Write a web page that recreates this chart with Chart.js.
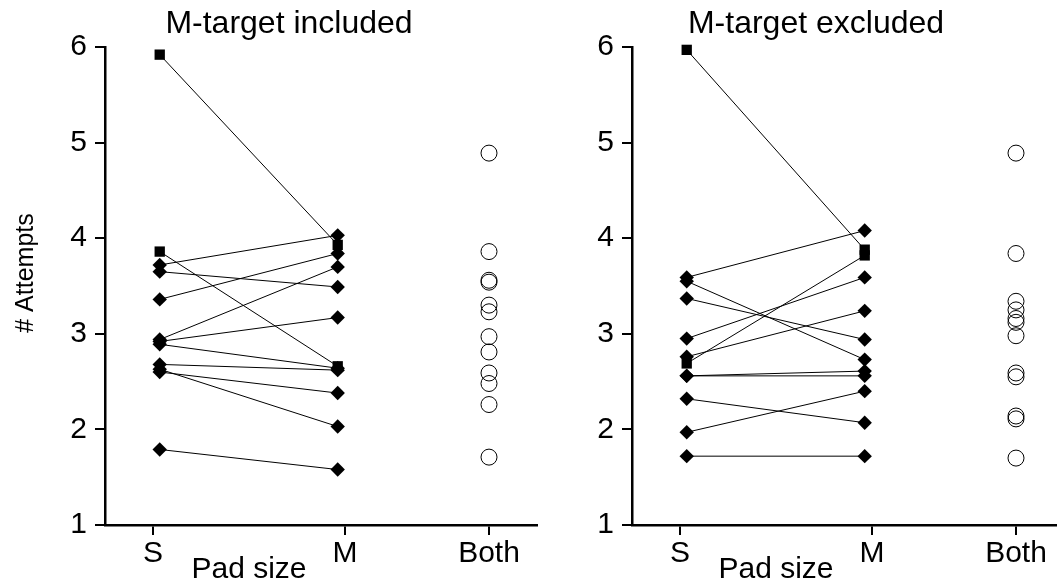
<!DOCTYPE html>
<html>
<head>
<meta charset="utf-8">
<script src="https://cdn.jsdelivr.net/npm/chart.js@4.4.1/dist/chart.umd.min.js"></script>
<style>
  html, body { margin:0; padding:0; background:#fff; width:1057px; height:587px; overflow:hidden; }
  .wrap { position:absolute; top:0; width:560px; height:587px; }
  canvas { display:block; }
</style>
</head>
<body>
<div class="wrap" style="left:0px"><canvas id="c1" width="560" height="587"></canvas></div>
<div class="wrap" style="left:527px"><canvas id="c2" width="560" height="587"></canvas></div>
<script>
// ---- data ----
const xTickPos = [1, 2, 2.75];
const xTickLabels = ['S', 'M', 'Both'];
const yTicks = [1, 2, 3, 4, 5, 6];
const panelTitles = ['M-target included', 'M-target excluded'];
const xAxisTitle = 'Pad size';
const yAxisTitle = '# Attempts';

// position on the x scale of each group of marks
const xS = 1.035, xM = 1.962, xBoth = 2.75;

// M-target included
const incS    = [5.92, 3.86, 3.72, 3.65, 3.36, 2.94, 2.92, 2.89, 2.68, 2.63, 2.60, 1.79];
const incM    = [3.93, 2.66, 4.03, 3.49, 3.84, 3.70, 3.17, 2.64, 2.62, 2.03, 2.38, 1.58];
const incBoth = [4.89, 3.86, 3.56, 3.54, 3.30, 3.23, 2.97, 2.81, 2.59, 2.48, 2.26, 1.71];
const incSquares = [0, 1];

// M-target excluded
const excS    = [5.97, 2.69, 3.59, 3.55, 3.37, 2.95, 2.76, 2.56, 2.56, 2.32, 1.97, 1.72];
const excM    = [3.88, 3.82, 4.08, 2.73, 2.94, 3.59, 3.24, 2.61, 2.56, 2.07, 2.40, 1.72];
const excBoth = [4.89, 3.84, 3.34, 3.25, 3.16, 3.12, 2.98, 2.59, 2.55, 2.14, 2.11, 1.70];
const excSquares = [0, 1];

const FONT = '"Liberation Sans", Arial, sans-serif';

function buildDatasets(S, M, Both, squares) {
  const ds = S.map((s, i) => {
    const sq = squares.includes(i);
    return {
      data: [{x: xS, y: s}, {x: xM, y: M[i]}],
      showLine: true,
      borderColor: '#000',
      borderWidth: 1,
      pointStyle: sq ? 'rect' : 'rectRot',
      pointRadius: sq ? 7.3 : 7.2,
      pointBackgroundColor: '#000',
      pointBorderColor: '#000',
      pointBorderWidth: 0,
      clip: false
    };
  });
  ds.push({
    data: Both.map(v => ({x: xBoth, y: v})),
    showLine: false,
    pointStyle: 'circle',
    pointRadius: 8,
    pointBackgroundColor: 'rgba(0,0,0,0)',
    pointBorderColor: '#000',
    pointBorderWidth: 1,
    clip: false
  });
  return ds;
}

function textPlugin(title, showYTitle) {
  return {
    id: 'texts',
    afterDraw(chart) {
      const ctx = chart.ctx;
      const ca = chart.chartArea;
      const xs = chart.scales.x;
      ctx.save();
      ctx.fillStyle = '#000';
      ctx.textBaseline = 'alphabetic';
      ctx.textAlign = 'center';
      ctx.font = '32px ' + FONT;
      ctx.fillText(title, ca.left + 184, 33);
      ctx.font = '30px ' + FONT;
      const px = (xs.getPixelForValue(xTickPos[0]) + xs.getPixelForValue(xTickPos[1])) / 2;
      ctx.fillText(xAxisTitle, px, 578);
      if (showYTitle) {
        ctx.translate(33, (ca.top + ca.bottom) / 2 - 13);
        ctx.rotate(-Math.PI / 2);
        ctx.font = '25px ' + FONT;
        ctx.fillText(yAxisTitle, 0, 0);
      }
      ctx.restore();
    }
  };
}

function makeChart(id, S, M, Both, squares, title, showYTitle) {
  return new Chart(document.getElementById(id), {
    type: 'scatter',
    data: { datasets: buildDatasets(S, M, Both, squares) },
    options: {
      responsive: false,
      animation: false,
      devicePixelRatio: 1,
      layout: { padding: { top: 47, right: 23, left: 0, bottom: 0 } },
      plugins: { legend: { display: false }, tooltip: { enabled: false }, title: { display: false } },
      scales: {
        x: {
          type: 'linear',
          min: 0.75,
          max: 3,
          afterBuildTicks: (s) => { s.ticks = xTickPos.map(v => ({ value: v })); },
          afterFit: (s) => { s.height = 62; },
          ticks: {
            autoSkip: false,
            maxRotation: 0,
            padding: 1,
            color: '#000',
            font: { family: FONT, size: 30 },
            callback: (v, i) => xTickLabels[i]
          },
          grid: { display: true, drawOnChartArea: false, drawTicks: true, tickLength: 10, color: '#000', lineWidth: 2 },
          border: { display: true, color: '#000', width: 2.5 }
        },
        y: {
          type: 'linear',
          min: 1,
          max: 6,
          afterBuildTicks: (s) => { s.ticks = yTicks.map(v => ({ value: v })); },
          afterFit: (s) => { s.width = 105; },
          ticks: {
            padding: 8,
            color: '#000',
            font: { family: FONT, size: 30 },
            callback: (v) => String(v)
          },
          grid: { display: true, drawOnChartArea: false, drawTicks: true, tickLength: 10, color: '#000', lineWidth: 2 },
          border: { display: true, color: '#000', width: 2.5 }
        }
      }
    },
    plugins: [textPlugin(title, showYTitle)]
  });
}

makeChart('c1', incS, incM, incBoth, incSquares, panelTitles[0], true);
makeChart('c2', excS, excM, excBoth, excSquares, panelTitles[1], false);
</script>
</body>
</html>
